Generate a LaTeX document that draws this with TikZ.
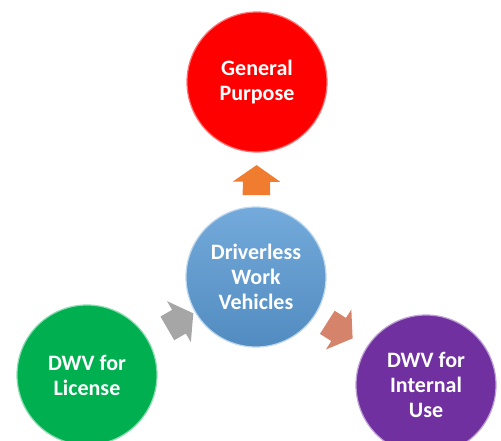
\documentclass[tikz,border=0pt]{standalone}
\usepackage{fontspec}
\setmainfont{Carlito}
\usetikzlibrary{shapes.arrows}

\definecolor{hubblue}{HTML}{5B9BD5}
\definecolor{hubgreen}{HTML}{00B050}
\definecolor{hubpurple}{HTML}{7030A0}
\definecolor{arroworange}{HTML}{F07C30}
\definecolor{arrowgray}{HTML}{A6A6A6}
\definecolor{arrowsalmon}{HTML}{D5836A}

\begin{document}
\begin{tikzpicture}[
            x=1pt, y=-1pt,
            topic/.style={circle, minimum size=140pt, inner sep=0pt, text=white, align=center,
              font=\bfseries\fontsize{22}{25}\selectfont, line width=1.2pt},
            pointer/.style={single arrow, sloped, pos=0.4, minimum height=30pt, inner xsep=0pt, inner ysep=13.5pt,
              single arrow head extend=10pt, single arrow tip angle=110, draw=none}
            ]
            \clip (0,0) rectangle (501,441);
            % Centre node
            \node[topic, top color=hubblue!85!white, bottom color=hubblue!90!black,
              draw=hubblue!40!white] (driverless) at (256,277) {Driverless\\Work\\Vehicles};
            % Outer nodes
            \node[topic, fill=red, draw=red!55!white] (general) at (257,82) {General\\Purpose};
            \node[topic, fill=hubgreen, draw=hubgreen!45!white] (license) at (87,375) {DWV for\\License};
            \node[topic, fill=hubpurple, draw=hubpurple!45!white] (internal) at (426,385) {DWV for\\Internal\\Use};
            % Block arrows
            \path (driverless) -- node[pointer, fill=arroworange] {} (general);
            \path (driverless) -- node[pointer, fill=arrowgray] {} (license);
            \path (driverless) -- node[pointer, fill=arrowsalmon] {} (internal);
          \end{tikzpicture}
\end{document}
